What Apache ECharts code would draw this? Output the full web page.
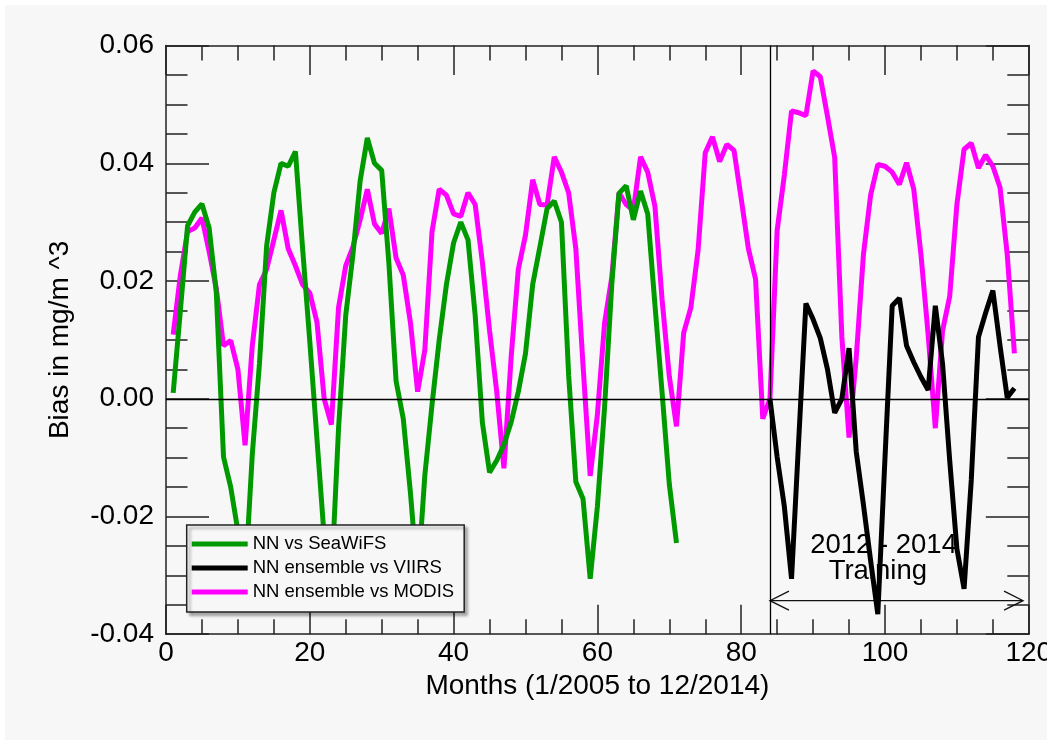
<!DOCTYPE html>
<html>
<head>
<meta charset="utf-8">
<title>Bias in mg/m^3, 2005-2014</title>
<script src="https://cdn.jsdelivr.net/npm/echarts@6/dist/echarts.min.js"></script>
<style>
  html, body { margin: 0; padding: 0; background: #ffffff; }
  #chart { position: absolute; left: 5px; top: 5px; width: 1042px; height: 735px; background: #f7f7f7; }
</style>
</head>
<body>
<div id="chart"></div>
<script>
// Monthly bias values (mg/m^3), month 1 = 1/2005
const seawifsStart = 1;
const seawifsBias = [
  0.001, 0.015, 0.0294, 0.0317, 0.0331, 0.029, 0.018, -0.0099, -0.015, -0.0225,
  -0.031, -0.0095, 0.006, 0.026, 0.035, 0.040, 0.0395, 0.042, 0.0255, 0.0097,
  -0.0069, -0.0235, -0.031, -0.005, 0.0142, 0.0245, 0.037, 0.0443, 0.040, 0.0388,
  0.023, 0.003, -0.0034, -0.016, -0.031, -0.013, -0.001, 0.010, 0.0194, 0.0265,
  0.030, 0.027, 0.0142, -0.004, -0.0125, -0.0105, -0.0078, -0.004, 0.0012, 0.0077,
  0.0194, 0.0258, 0.0323, 0.0336, 0.030, 0.004, -0.0141, -0.017, -0.0306, -0.0183,
  -0.0014, 0.0194, 0.0349, 0.0362, 0.0304, 0.0353, 0.0314, 0.016, 0.001, -0.0145,
  -0.0245
];

const viirsStart = 84;
const viirsBias = [
  0.0, -0.0099, -0.0183, -0.0306, -0.007, 0.0162, 0.0135, 0.0103, 0.005, -0.0024,
  0.0, 0.0086, -0.009, -0.018, -0.0275, -0.0366, -0.010, 0.0158, 0.0171, 0.009,
  0.0062, 0.0037, 0.0015, 0.0158, 0.006, -0.0105, -0.0255, -0.0323, -0.0138, 0.0105,
  0.0146, 0.0184, 0.009, 0.0002, 0.0018
];

const modisStart = 1;
const modisBias = [
  0.0109, 0.021, 0.0284, 0.029, 0.0307, 0.025, 0.0187, 0.009, 0.0099, 0.005,
  -0.0079, 0.009, 0.0194, 0.022, 0.027, 0.032, 0.0255, 0.0226, 0.0194, 0.018,
  0.013, 0.0, -0.0044, 0.0155, 0.0226, 0.0258, 0.0304, 0.0356, 0.0297, 0.0281,
  0.0323, 0.0239, 0.021, 0.0129, 0.0012, 0.0083, 0.0284, 0.0356, 0.0346, 0.0314,
  0.031, 0.035, 0.033, 0.0232, 0.0116, 0.0012, -0.0118, 0.007, 0.022, 0.0278,
  0.0372, 0.033, 0.0329, 0.0411, 0.0385, 0.035, 0.0255, 0.0057, -0.0131, -0.0027,
  0.0129, 0.0206, 0.035, 0.033, 0.032, 0.0411, 0.0385, 0.0327, 0.0168, 0.0038,
  -0.0047, 0.0112, 0.0155, 0.0252, 0.0418, 0.0445, 0.0403, 0.0432, 0.0422, 0.034,
  0.0255, 0.0203, -0.0034, 0.0, 0.0286, 0.038, 0.0489, 0.0486, 0.0481, 0.0557,
  0.0547, 0.048, 0.041, 0.0105, -0.0066, 0.007, 0.0245, 0.0346, 0.0398, 0.0395,
  0.0385, 0.0364, 0.0401, 0.0356, 0.0245, 0.0109, -0.005, 0.0115, 0.0174, 0.033,
  0.0424, 0.0434, 0.0392, 0.0414, 0.0395, 0.0359, 0.0245, 0.0077
];

// Series names as shown in the legend
const seriesNames = ['NN vs SeaWiFS', 'NN ensemble vs VIIRS', 'NN ensemble vs MODIS'];

// Training period annotation (month range and text)
const trainingStart = 84;
const trainingEnd = 119.2;
const trainingLevel = -0.0343;
const trainingLabels = ['2012 - 2014', 'Training'];
const trainingLabelPos = [[99.8, -0.0249], [99.0, -0.0294]];

// Axis settings
const xMin = 0, xMax = 120, xStep = 20;
const yMin = -0.04, yMax = 0.06, yStep = 0.02;

function toPairs(start, values) {
  return values.map((v, i) => [start + i, v]);
}

const FONT = '"Liberation Sans", Arial, Helvetica, sans-serif';
const FRAME = '#222222';

function frameAxis(extra, isX) {
  return Object.assign({
    type: 'value',
    splitLine: { show: false },
    minorSplitLine: { show: false },
    axisLine: { show: true, onZero: false, lineStyle: { color: FRAME, width: 1.5 } },
    axisTick: { show: true, inside: true, length: isX ? 29.5 : 43, lineStyle: { color: FRAME, width: 1.5 } },
    minorTick: { show: true, splitNumber: 4, length: isX ? 15 : 21.5, lineStyle: { color: FRAME, width: 1.5 } }
  }, extra);
}

const chart = echarts.init(document.getElementById('chart'), null, { renderer: 'canvas' });

const option = {
  animation: false,
  backgroundColor: '#f7f7f7',
  textStyle: { fontFamily: FONT },
  grid: {
    left: 161, top: 40.6, width: 862.8, height: 588.6,
    containLabel: false,
    outerBoundsMode: 'none'
  },
  xAxis: [
    frameAxis({
      position: 'bottom', min: xMin, max: xMax, interval: xStep,
      name: 'Months (1/2005 to 12/2014)', nameLocation: 'middle', nameGap: 37,
      nameTextStyle: { fontSize: 28, color: '#000', fontFamily: FONT },
      axisLabel: { show: true, margin: 5, fontSize: 28, color: '#000', fontFamily: FONT, hideOverlap: false }
    }, true),
    frameAxis({
      position: 'top', min: xMin, max: xMax, interval: xStep,
      axisLabel: { show: false }
    }, true)
  ],
  yAxis: [
    frameAxis({
      position: 'left', min: yMin, max: yMax, interval: yStep,
      name: 'Bias in mg/m ^3', nameLocation: 'middle', nameRotate: 90, nameGap: 92,
      nameTextStyle: { fontSize: 28, color: '#000', fontFamily: FONT },
      axisLabel: { show: true, margin: 12, fontSize: 28, color: '#000', fontFamily: FONT,
        formatter: v => v.toFixed(2) }
    }, false),
    frameAxis({
      position: 'right', min: yMin, max: yMax, interval: yStep,
      axisLabel: { show: false }
    }, false)
  ],
  legend: {
    data: seriesNames,
    orient: 'vertical',
    left: 181.7, top: 520,
    padding: [9, 10, 10, 5],
    itemGap: 4,
    itemWidth: 56,
    itemHeight: 5,
    icon: 'rect',
    selectedMode: false,
    backgroundColor: '#f7f7f7',
    borderColor: FRAME,
    borderWidth: 1.5,
    shadowColor: 'rgba(0,0,0,0.35)',
    shadowBlur: 3,
    shadowOffsetX: 3,
    shadowOffsetY: 3,
    textStyle: { fontSize: 18.5, lineHeight: 20, color: '#000', fontFamily: FONT }
  },
  series: [
    {
      // training-period arrow and caption, drawn beneath the data lines
      type: 'custom',
      coordinateSystem: 'cartesian2d',
      silent: true,
      clip: false,
      data: [[trainingStart, trainingLevel]],
      renderItem: function (params, api) {
        const a = api.coord([trainingStart, trainingLevel]);
        const b = api.coord([trainingEnd, trainingLevel]);
        const head = 19, half = 9.5;
        const st = { stroke: '#111', lineWidth: 1.3, fill: null };
        const children = [
          { type: 'line', shape: { x1: a[0], y1: a[1], x2: b[0], y2: b[1] }, style: st },
          { type: 'polyline', shape: { points: [[a[0] + head, a[1] - half], [a[0], a[1]], [a[0] + head, a[1] + half]] }, style: st },
          { type: 'polyline', shape: { points: [[b[0] - head, b[1] - half], [b[0], b[1]], [b[0] - head, b[1] + half]] }, style: st }
        ];
        trainingLabels.forEach((t, i) => {
          const p = api.coord(trainingLabelPos[i]);
          children.push({
            type: 'text', x: p[0], y: p[1],
            style: { text: t, fill: '#000', font: '27.5px ' + FONT, align: 'center', verticalAlign: 'middle' }
          });
        });
        return { type: 'group', children: children };
      }
    },
    {
      name: seriesNames[2],
      type: 'line',
      data: toPairs(modisStart, modisBias),
      showSymbol: false,
      symbol: 'none',
      color: '#ff00ff',
      lineStyle: { color: '#ff00ff', width: 5 },
      markLine: {
        silent: true,
        symbol: ['none', 'none'],
        label: { show: false },
        lineStyle: { color: '#000', width: 1.3, type: 'solid' },
        emphasis: { disabled: true },
        data: [{ yAxis: 0 }, { xAxis: trainingStart }]
      }
    },
    {
      name: seriesNames[0],
      type: 'line',
      data: toPairs(seawifsStart, seawifsBias),
      showSymbol: false,
      symbol: 'none',
      color: '#009a00',
      lineStyle: { color: '#009a00', width: 5 }
    },
    {
      name: seriesNames[1],
      type: 'line',
      data: toPairs(viirsStart, viirsBias),
      showSymbol: false,
      symbol: 'none',
      color: '#000000',
      lineStyle: { color: '#000000', width: 5 }
    }
  ]
};

chart.setOption(option);
</script>
</body>
</html>
